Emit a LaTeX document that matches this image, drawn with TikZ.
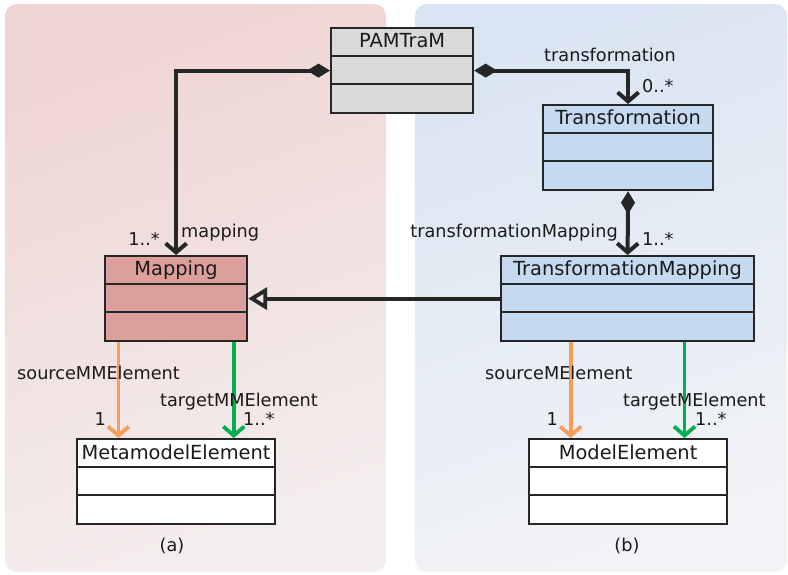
\documentclass[tikz,border=0pt]{standalone}
\usepackage{fontspec}
\setmainfont{DejaVu Sans}
\usetikzlibrary{arrows.meta,calc,positioning}
\definecolor{linec}{HTML}{262626}
\definecolor{textc}{HTML}{1A1A1A}
\definecolor{pamfill}{HTML}{D9D9D9}
\definecolor{mapfill}{HTML}{DC9F9C}
\definecolor{trafofill}{HTML}{C5D9F1}
\definecolor{srcc}{HTML}{F79D58}
\definecolor{tgtc}{HTML}{00B050}
\definecolor{pinkA}{HTML}{EED5D3}
\definecolor{pinkB}{HTML}{F4EEEE}
\definecolor{blueA}{HTML}{DAE5F3}
\definecolor{blueB}{HTML}{F2F3F6}
\tikzset{
  classbox/.style={draw=linec, line width=2.2pt, minimum height=85, inner sep=0pt},
  boxline/.style={draw=linec, line width=2.2pt},
  classname/.style={text=textc, font=\fontsize{19.4}{22}\selectfont, inner sep=0pt},
  role/.style={text=textc, font=\fontsize{17.7}{20}\selectfont, inner sep=0pt},
  comp/.style={draw=linec, line width=4pt, {Diamond[length=23pt,width=14pt]}-{Straight Barb[length=9pt,width=21pt]}},
  gen/.style={draw=linec, line width=3.8pt, -{Triangle[open,length=19pt,width=22pt]}},
  srcref/.style={draw=srcc, line width=3.8pt, -{Straight Barb[length=9pt,width=21pt]}},
  tgtref/.style={draw=tgtc, line width=3.8pt, -{Straight Barb[length=9pt,width=21pt]}},
}
\def\umlclass[#1](#2)(#3,#4)(#5)#6{%
  \node[classbox,#1,minimum width=#5,anchor=north west] (#2) at (#3,#4) {};
  \node[classname,anchor=base] (#2-name) at ($(#2.north)+(0,21)$) {#6};
  \draw[boxline] ($(#2.north west)+(0,29)$) -- ($(#2.north east)+(0,29)$);
  \draw[boxline] ($(#2.north west)+(0,57)$) -- ($(#2.north east)+(0,57)$);
}
\begin{document}
\begin{tikzpicture}[x=1pt,y=-1pt]
  \useasboundingbox (0,0) rectangle (788,575);

  %%%%% PANELS %%%%%
  \shade[rounded corners=12, top color=pinkA, bottom color=pinkB, shading angle=20] (5,4) rectangle (386,572);
  \shade[rounded corners=12, top color=blueA, bottom color=blueB, shading angle=20] (415,4) rectangle (787,572);

  %%%%% CLASSES %%%%%
  \umlclass[fill=pamfill](pam)(330,27)(142){PAMTraM}
  \umlclass[fill=trafofill](trafo)(542,104)(170){Transformation}
  \umlclass[fill=trafofill](tmap)(500,255)(253){TransformationMapping}
  \umlclass[fill=mapfill](map)(104,255)(142){Mapping}
  \umlclass[fill=white](mme)(76,438)(198){MetamodelElement}
  \umlclass[fill=white](me)(528,438)(198){ModelElement}

  %%%%% CONNECTORS %%%%%
  \draw[comp] (pam.west) -| (map.north);
  \draw[comp] (pam.east) -| (trafo.north);
  \draw[comp] (trafo.south) -- (tmap.north);
  \draw[gen] (tmap.west) -- (map.east);

  \draw[srcref] ($(map.south west)!0.1!(map.south east)$) coordinate (ms) -- (ms |- mme.north);
  \draw[tgtref] ($(map.south west)!0.9!(map.south east)$) coordinate (mt) -- (mt |- mme.north);
  \draw[srcref] ($(tmap.south west)!0.277!(tmap.south east)$) coordinate (ts) -- (ts |- me.north);
  \draw[tgtref] ($(tmap.south west)!0.723!(tmap.south east)$) coordinate (tt) -- (tt |- me.north);

  %%%%% LABELS %%%%%
  \node[role, anchor=base west] (lmap) at (181,238) {mapping};
  \node[role, anchor=base east] (mmap) at (160,245) {1..*};
  \node[role, anchor=base] (ltrafo) at (610,62) {transformation};
  \node[role, anchor=base west] (mtrafo) at (642,93) {0..*};
  \node[role, anchor=base east] (ltmap) at (618,237) {transformationMapping};
  \node[role, anchor=base west] (mtmap) at (642,246) {1..*};

  \node[role, anchor=base west] (lmsrc) at (17,379) {sourceMMElement};
  \node[role, anchor=base west] (lmtgt) at (160,406) {targetMMElement};
  \node[role, anchor=base east] (mmsrc) at (106,425) {1};
  \node[role, anchor=base west] (mmtgt) at (243,425) {1..*};

  \node[role, anchor=base west] (ltsrc) at (485,379) {sourceMElement};
  \node[role, anchor=base west] (lttgt) at (623,406) {targetMElement};
  \node[role, anchor=base east] (mtsrc) at (558,425) {1};
  \node[role, anchor=base west] (mttgt) at (695,425) {1..*};

  \node[role] (capa) at (172,546) {(a)};
  \node[role] (capb) at (627,546) {(b)};
\end{tikzpicture}
\end{document}
